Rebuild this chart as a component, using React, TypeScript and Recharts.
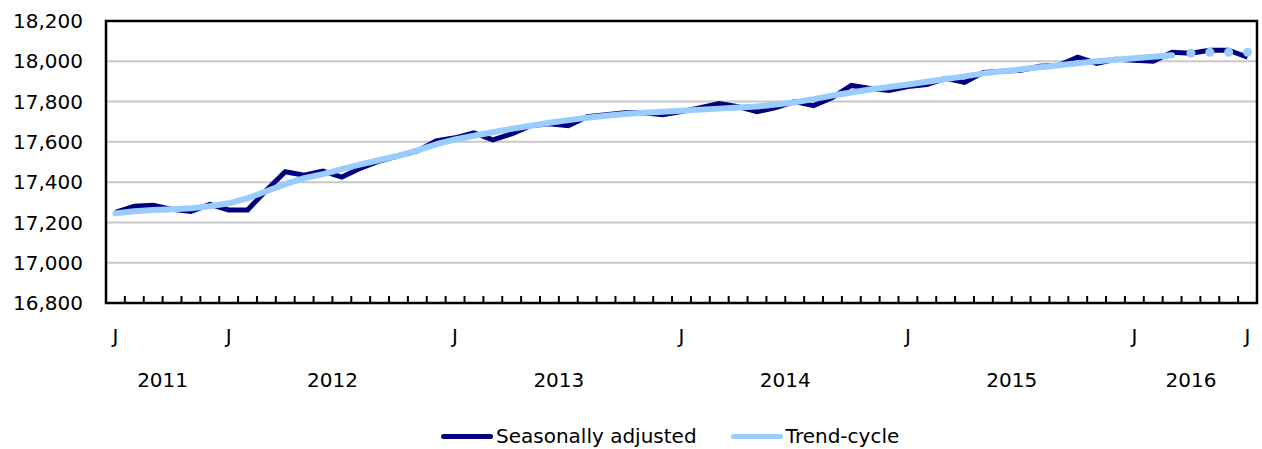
import React from "react";
import { LineChart, Line, XAxis, YAxis, CartesianGrid, ReferenceArea, Legend } from "recharts";

const MONTHS = [
  "2011-07", "2011-08", "2011-09", "2011-10", "2011-11", "2011-12",
  "2012-01", "2012-02", "2012-03", "2012-04", "2012-05", "2012-06",
  "2012-07", "2012-08", "2012-09", "2012-10", "2012-11", "2012-12",
  "2013-01", "2013-02", "2013-03", "2013-04", "2013-05", "2013-06",
  "2013-07", "2013-08", "2013-09", "2013-10", "2013-11", "2013-12",
  "2014-01", "2014-02", "2014-03", "2014-04", "2014-05", "2014-06",
  "2014-07", "2014-08", "2014-09", "2014-10", "2014-11", "2014-12",
  "2015-01", "2015-02", "2015-03", "2015-04", "2015-05", "2015-06",
  "2015-07", "2015-08", "2015-09", "2015-10", "2015-11", "2015-12",
  "2016-01", "2016-02", "2016-03", "2016-04", "2016-05", "2016-06",
  "2016-07",
];

const SEASONALLY_ADJUSTED = [
  17250, 17280, 17285, 17265, 17255, 17290,
  17262, 17262, 17360, 17452, 17435, 17455,
  17425, 17470, 17505, 17530, 17555, 17605,
  17620, 17645, 17610, 17640, 17680, 17690,
  17680, 17725, 17735, 17745, 17745, 17735,
  17750, 17770, 17790, 17775, 17750, 17770,
  17800, 17780, 17820, 17880, 17865, 17855,
  17875, 17885, 17915, 17895, 17945, 17950,
  17955, 17975, 17980, 18020, 17990, 18010,
  18005, 18000, 18045, 18040, 18055, 18055,
  18020,
];

const TREND_CYCLE = [
  17245, 17255, 17262, 17265, 17270, 17280,
  17295, 17320, 17355, 17390, 17420, 17440,
  17465, 17488, 17510, 17532, 17558, 17588,
  17612, 17630, 17648, 17665, 17680, 17695,
  17708, 17720, 17730, 17738, 17745, 17750,
  17755, 17760, 17765, 17770, 17776, 17785,
  17797, 17812, 17830, 17845, 17860, 17872,
  17885, 17898, 17912, 17925, 17940, 17950,
  17960, 17970, 17980, 17990, 18000, 18008,
  18015, 18022, 18030, 18040, 18045, 18045,
  18045,
];

// number of trend-cycle months drawn as a continuous line (the rest are shown as dots)
const TREND_LINE_MONTHS = 57;

const Y_TICKS = [16800, 17000, 17200, 17400, 17600, 17800, 18000, 18200];
const MONTH_LETTERS = ["J", "F", "M", "A", "M", "J", "J", "A", "S", "O", "N", "D"];
const LABELED_MONTHS = ["2011-07", "2012-01", "2013-01", "2014-01", "2015-01", "2016-01", "2016-07"];
const YEARS = ["2011", "2012", "2013", "2014", "2015", "2016"];

const data = MONTHS.map((m, i) => ({
  idx: i + 0.5,
  month: m,
  sa: SEASONALLY_ADJUSTED[i],
  trend: i < TREND_LINE_MONTHS ? TREND_CYCLE[i] : null,
  trendDots: i >= TREND_LINE_MONTHS ? TREND_CYCLE[i] : null,
}));

const boundaryTicks = MONTHS.slice(1).map((_, i) => i + 1);
const monthTicks = LABELED_MONTHS.map((m) => MONTHS.indexOf(m) + 0.5);
const yearTicks = YEARS.map((y) => {
  const first = MONTHS.findIndex((m) => m.startsWith(y));
  let last = first;
  MONTHS.forEach((m, i) => {
    if (m.startsWith(y)) last = i;
  });
  return (first + last + 1) / 2;
});

const FONT = "'DejaVu Sans', Verdana, sans-serif";
const NAVY = "#000080";
const LIGHT = "#99CCFF";

const BoundaryTick = (props: any) => {
  const { x, y } = props;
  return <line x1={x} x2={x} y1={y} y2={y - 7} stroke="#000" strokeWidth={2} />;
};

const renderLegend = () => {
  const items = [
    { label: "Seasonally adjusted", color: NAVY },
    { label: "Trend-cycle", color: LIGHT },
  ];
  return (
    <div
      style={{
        display: "flex",
        alignItems: "center",
        height: 26,
        paddingLeft: 441,
        fontFamily: FONT,
        fontSize: 20,
        color: "#000",
      }}
    >
      {items.map((it) => (
        <div key={it.label} style={{ display: "flex", alignItems: "center", marginRight: 34 }}>
          <span
            style={{
              display: "inline-block",
              width: 52,
              height: 5,
              borderRadius: 3,
              background: it.color,
              marginRight: 3,
            }}
          />
          <span>{it.label}</span>
        </div>
      ))}
    </div>
  );
};

export default function App() {
  return (
    <div style={{ position: "absolute", left: 0, top: 0, background: "#fff" }}>
      <LineChart
        width={1262}
        height={449}
        data={data}
        margin={{ top: 21, right: 5, left: 0, bottom: 0 }}
        style={{ fontFamily: FONT }}
      >
        <CartesianGrid
          xAxisId="a"
          vertical={false}
          stroke="#C8C8C8"
          strokeWidth={2}
        />
        <XAxis
          xAxisId="a"
          dataKey="idx"
          type="number"
          domain={[0, MONTHS.length]}
          ticks={boundaryTicks}
          interval={0}
          axisLine={false}
          tickLine={false}
          tickSize={0}
          tickMargin={0}
          tick={<BoundaryTick />}
          height={1}
        />
        <XAxis
          xAxisId="b"
          dataKey="idx"
          type="number"
          domain={[0, MONTHS.length]}
          ticks={monthTicks}
          interval={0}
          axisLine={false}
          tickLine={false}
          tickSize={0}
          tickMargin={25}
          tickFormatter={(v: number) => MONTH_LETTERS[parseInt(MONTHS[Math.floor(v)].slice(5), 10) - 1]}
          tick={{ fontSize: 20, fill: "#000", fontFamily: FONT }}
          height={42}
        />
        <XAxis
          xAxisId="c"
          dataKey="idx"
          type="number"
          domain={[0, MONTHS.length]}
          ticks={yearTicks}
          interval={0}
          axisLine={false}
          tickLine={false}
          tickSize={0}
          tickMargin={27}
          tickFormatter={(v: number) => YEARS[yearTicks.indexOf(v)]}
          tick={{ fontSize: 20, fill: "#000", fontFamily: FONT }}
          height={77}
        />
        <YAxis
          domain={[16800, 18200]}
          ticks={Y_TICKS}
          interval={0}
          width={106}
          axisLine={false}
          tickLine={false}
          tickSize={0}
          tickMargin={23}
          tickFormatter={(v: number) => v.toLocaleString("en-US")}
          tick={{ fontSize: 20, fill: "#000", fontFamily: FONT }}
        />
        <Line
          xAxisId="a"
          dataKey="sa"
          name="Seasonally adjusted"
          stroke={NAVY}
          strokeWidth={5}
          dot={false}
          activeDot={false}
          isAnimationActive={false}
        />
        <Line
          xAxisId="a"
          dataKey="trend"
          name="Trend-cycle"
          stroke={LIGHT}
          strokeWidth={6}
          strokeLinecap="round"
          strokeLinejoin="round"
          dot={false}
          activeDot={false}
          isAnimationActive={false}
        />
        <Line
          xAxisId="a"
          dataKey="trendDots"
          name="Trend-cycle (projected)"
          stroke="none"
          legendType="none"
          dot={{ r: 4.5, fill: LIGHT, stroke: "none" }}
          activeDot={false}
          isAnimationActive={false}
        />
        <ReferenceArea
          xAxisId="a"
          x1={0}
          x2={MONTHS.length}
          y1={16800}
          y2={18200}
          fill="none"
          stroke="#000"
          strokeWidth={2.5}
          ifOverflow="visible"
        />
        <Legend verticalAlign="bottom" content={renderLegend} />
      </LineChart>
    </div>
  );
}
